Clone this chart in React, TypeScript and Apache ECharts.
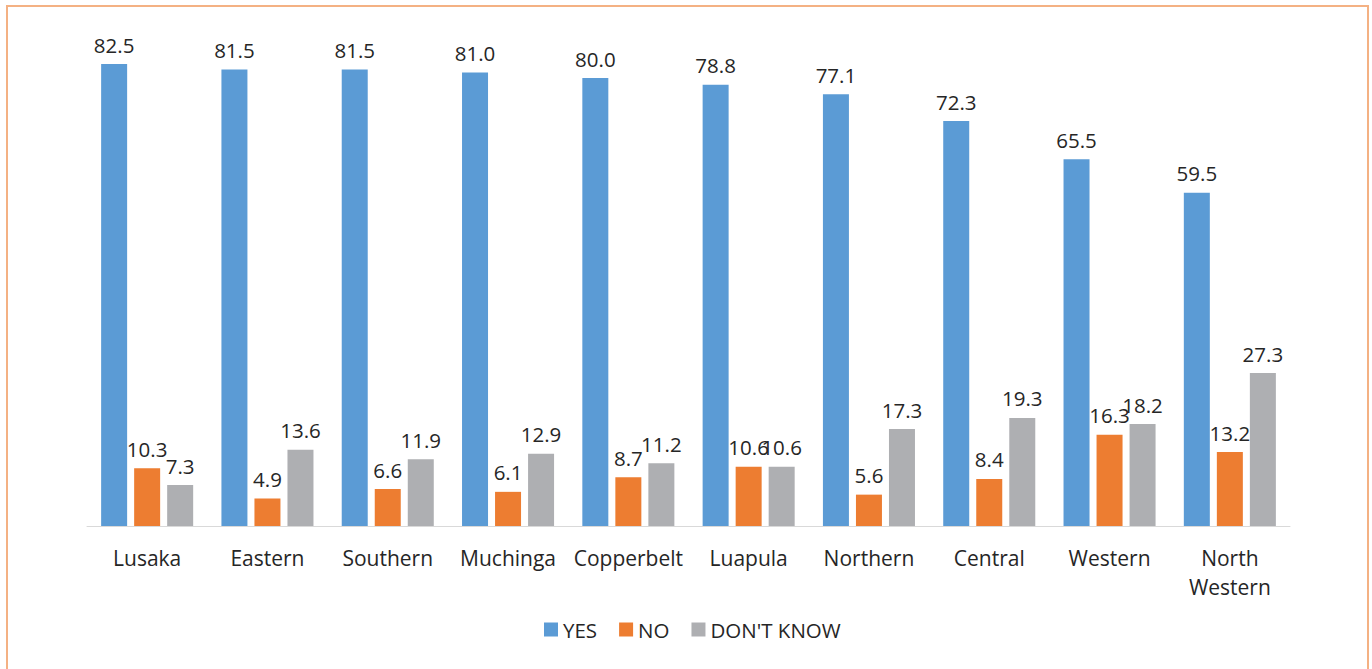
import React, { useEffect, useRef } from "react";
import * as echarts from "echarts";

const provinces = [
  "Lusaka",
  "Eastern",
  "Southern",
  "Muchinga",
  "Copperbelt",
  "Luapula",
  "Northern",
  "Central",
  "Western",
  "North\nWestern",
];
const yesValues = [82.5, 81.5, 81.5, 81.0, 80.0, 78.8, 77.1, 72.3, 65.5, 59.5];
const noValues = [10.3, 4.9, 6.6, 6.1, 8.7, 10.6, 5.6, 8.4, 16.3, 13.2];
const dontKnowValues = [7.3, 13.6, 11.9, 12.9, 11.2, 10.6, 17.3, 19.3, 18.2, 27.3];

const FONT = "'Open Sans', 'Noto Sans', sans-serif";
const TEXT = "#262626";

export default function App() {
  const ref = useRef<HTMLDivElement>(null);

  useEffect(() => {
    document.body.style.margin = "0";
    if (!ref.current) return;
    const chart = echarts.init(ref.current, undefined, { renderer: "svg" });

    const label = {
      show: true,
      position: "top" as const,
      distance: 9,
      color: TEXT,
      fontFamily: FONT,
      fontSize: 20.5,
      formatter: (p: any) => Number(p.value).toFixed(1),
    };

    const makeSeries = (name: string, data: number[], color: string) => ({
      name,
      type: "bar" as const,
      data,
      barWidth: 26,
      barGap: "27%",
      itemStyle: { color },
      label,
    });

    chart.setOption({
      animation: false,
      backgroundColor: "#ffffff",
      textStyle: { fontFamily: FONT },
      graphic: [
        {
          type: "rect",
          shape: { x: 7, y: 6, width: 1361, height: 720 },
          style: { fill: "none", stroke: "#F4B183", lineWidth: 2 },
          silent: true,
        },
      ],
      grid: { left: 87, right: 82, top: 22, bottom: 143 },
      legend: {
        data: ["YES", "NO", "DON'T KNOW"],
        left: 539,
        top: 614,
        itemWidth: 14,
        itemHeight: 14,
        itemGap: 22,
        icon: "rect",
        textStyle: { color: TEXT, fontSize: 20.5, fontFamily: FONT },
      },
      xAxis: {
        type: "category",
        data: provinces,
        axisLine: { lineStyle: { color: "#D9D9D9", width: 1 } },
        axisTick: { show: false },
        axisLabel: {
          color: TEXT,
          fontSize: 21,
          fontFamily: FONT,
          margin: 17,
          lineHeight: 29,
          interval: 0,
        },
      },
      yAxis: {
        type: "value",
        min: 0,
        max: 90,
        show: false,
        splitLine: { show: false },
      },
      series: [
        makeSeries("YES", yesValues, "#5B9BD5"),
        makeSeries("NO", noValues, "#ED7D31"),
        makeSeries("DON'T KNOW", dontKnowValues, "#AEAFB2"),
      ],
    });

    return () => chart.dispose();
  }, []);

  return <div ref={ref} style={{ width: 1372, height: 669 }} />;
}
